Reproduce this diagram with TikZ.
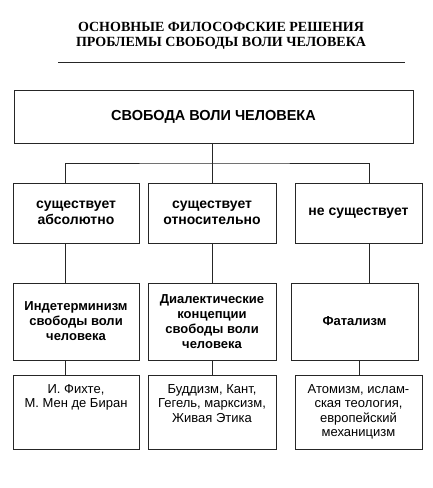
\documentclass[tikz,border=0pt]{standalone}
\usepackage{fontspec}
\setmainfont{Liberation Sans}
\newfontfamily\titlefont{Liberation Serif}
\begin{document}
\begin{tikzpicture}[x=1pt,y=-1pt,
  line/.style={draw=black!85,line width=0.9pt},
  box/.style={line,rectangle,inner sep=0pt,align=center},
  bt/.style={font=\fontsize{13}{15}\selectfont\bfseries,align=center},
  nt/.style={font=\fontsize{13}{14.5}\selectfont,align=center}]
\useasboundingbox (0,0) rectangle (433,488);
% title
\node[font=\titlefont\fontsize{14}{15}\selectfont\bfseries,align=center] (title) at (221,35.5)
  {ОСНОВНЫЕ ФИЛОСОФСКИЕ РЕШЕНИЯ\\ПРОБЛЕМЫ СВОБОДЫ ВОЛИ ЧЕЛОВЕКА};
\coordinate (rl) at (58,62);
\coordinate (rr) at (405,62);
\draw[line] (rl) -- (rr);
% top box
\node[box,minimum width=399,minimum height=53,font=\fontsize{14.5}{16}\selectfont\bfseries] (top) at (213.5,116.5) {СВОБОДА ВОЛИ ЧЕЛОВЕКА};
% row 1
\node[box,minimum width=126,minimum height=60,font=\fontsize{14}{16.5}\selectfont\bfseries] (a1) at (76,213) {существует\\абсолютно};
\node[box,minimum width=128,minimum height=60,font=\fontsize{14}{16.5}\selectfont\bfseries] (b1) at (212,213) {существует\\относительно};
\node[box,minimum width=127,minimum height=60,font=\fontsize{14}{16.5}\selectfont\bfseries] (c1) at (358.5,213) {не существует};
% row 2
\node[box,bt,minimum width=126,minimum height=77] (a2) at (76,321.5) {Индетерминизм\\свободы воли\\человека};
\node[box,bt,minimum width=128,minimum height=77] (b2) at (212,321.5) {Диалектические\\концепции\\свободы воли\\человека};
\node[box,bt,minimum width=127,minimum height=77] (c2) at (354.5,321.5) {Фатализм};
% row 3
\node[box,minimum width=126,minimum height=74] (a3) at (76,412) {};
\node[box,minimum width=128,minimum height=74] (b3) at (212,412) {};
\node[box,minimum width=127,minimum height=74] (c3) at (358.5,412) {};
\node[nt,anchor=north] (a3t) at ([yshift=-6]a3.north) {И. Фихте,\\М. Мен де Биран};
\node[nt,anchor=north] (b3t) at ([yshift=-6]b3.north) {Буддизм, Кант,\\Гегель, марксизм,\\Живая Этика};
\node[nt,anchor=north] (c3t) at ([yshift=-6]c3.north) {Атомизм, ислам-\\ская теология,\\европейский\\механицизм};
% connectors
\coordinate (bus) at (212,163);
\draw[line] (top.south -| bus) -- (bus);
\draw[line] (a1.north -| 65,0) |- (bus) -| (c1.north -| 369,0);
\draw[line] (bus) -- (b1.north);
\draw[line] (a1.south -| 65,0) -- (a2.north -| 65,0);
\draw[line] (b1.south) -- (b2.north);
\draw[line] (c1.south -| 369,0) -- (c2.north -| 369,0);
\draw[line] (a2.south -| 65,0) -- (a3.north -| 65,0);
\draw[line] (b2.south) -- (b3.north);
\draw[line] (c2.south -| 359,0) -- (c3.north -| 359,0);
\end{tikzpicture}
\end{document}
